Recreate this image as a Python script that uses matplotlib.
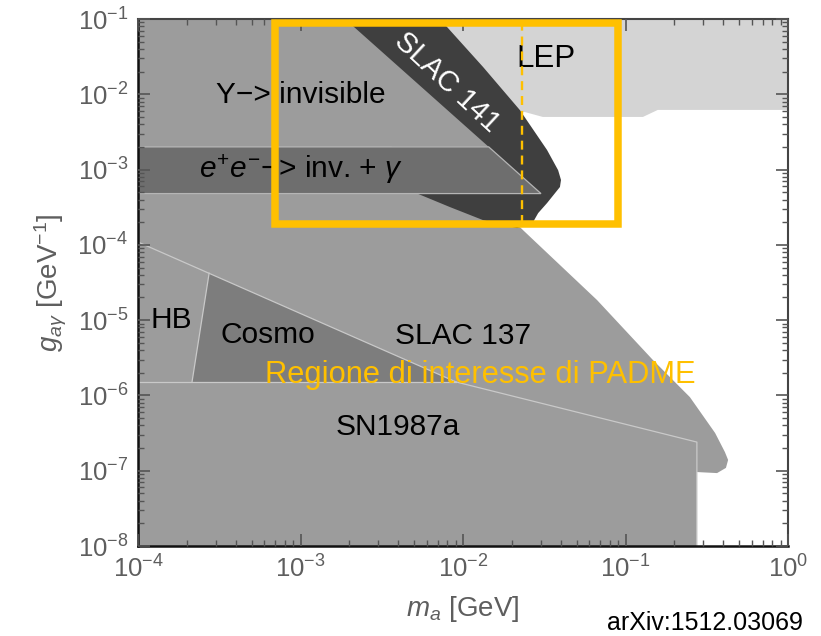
import matplotlib
matplotlib.use("Agg")
import matplotlib.pyplot as plt
from matplotlib.patches import Rectangle
from matplotlib.ticker import LogLocator, NullFormatter

plt.rcParams["font.family"] = ["Liberation Sans", "DejaVu Sans"]
plt.rcParams["mathtext.fontset"] = "custom"
plt.rcParams["mathtext.rm"] = "Liberation Sans"
plt.rcParams["mathtext.it"] = "Liberation Sans:italic"
plt.rcParams["mathtext.bf"] = "Liberation Sans:bold"

# ---- exclusion regions (m_a in GeV, g_agamma in GeV^-1) ----
lep_m = [5.5e-3, 1.0, 1.0, 0.158, 0.128, 0.031, 0.0241, 0.018]
lep_g = [0.1, 0.1, 6.2e-3, 6.2e-3, 5.0e-3, 5.0e-3, 5.8e-3, 5.8e-3]

slac141_m = [1.5e-3, 7.2e-3, 0.0133, 0.0224, 0.0329, 0.0385, 0.0401, 0.0395,
             0.0329, 0.029, 0.027, 0.0215, 0.0133, 8.3e-3, 5.0e-3]
slac141_g = [0.1, 0.1, 0.023, 6.16e-3, 1.82e-3, 9.8e-4, 7.27e-4, 5.87e-4,
             3.59e-4, 2.64e-4, 2.01e-4, 1.67e-4, 2.13e-4, 3.18e-4, 5.0e-4]

slac137_m = [1e-4, 0.275, 0.275, 0.366, 0.415, 0.428, 0.409, 0.356, 0.249,
             0.1476, 0.0668, 0.0234, 0.0209, 0.012, 1e-4]
slac137_g = [1e-8, 1e-8, 9.6e-8, 9.3e-8, 1.09e-7, 1.39e-7, 1.77e-7, 3.17e-7,
             9.5e-7, 2.95e-6, 1.85e-5, 1.57e-4, 2.0e-4, 6.0e-4, 6.0e-4]

upsilon_m = [1e-4, 1.88e-3, 0.0144, 1e-4]
upsilon_g = [0.1, 0.1, 2.0e-3, 2.0e-3]

eeinv_m = [1e-4, 0.0144, 0.0302, 1e-4]
eeinv_g = [2.0e-3, 2.0e-3, 4.8e-4, 4.8e-4]

cosmo_m = [2.74e-4, 9.06e-3, 2.15e-4]
cosmo_g = [4.21e-5, 1.51e-6, 1.51e-6]

hb_top_m = [1e-4, 9.06e-3]
hb_top_g = [1.09e-4, 1.51e-6]
hb_side_m = [2.74e-4, 2.15e-4]
hb_side_g = [4.21e-5, 1.51e-6]
hb_base_m = [1e-4, 9.06e-3]
hb_base_g = [1.51e-6, 1.51e-6]

sn_m = [9.06e-3, 0.275, 0.275]
sn_g = [1.51e-6, 2.4e-7, 1e-8]

# PADME region of interest
padme_m = [7.0e-4, 0.0893]
padme_g = [1.89e-4, 0.0883]
padme_mass_limit = 0.023

MID = "#9c9c9c"
EDGE = "#c9c9c9"
YELLOW = "#FFC000"
TICKC = "#5e5e5e"

fig = plt.figure(figsize=(8.21, 6.36), dpi=100)
ax = fig.add_axes([138 / 821, 1 - 546 / 636, 650 / 821, 527 / 636])
ax.set_xscale("log")
ax.set_yscale("log")
ax.set_xlim(1e-4, 1.0)
ax.set_ylim(1e-8, 1e-1)

ax.fill(lep_m, lep_g, color="#d4d4d4", lw=0, zorder=1.0)
ax.fill(slac137_m, slac137_g, color=MID, lw=0, zorder=1.1)
ax.fill(slac141_m, slac141_g, color="#3f3f3f", lw=0, zorder=1.2)
ax.fill(upsilon_m, upsilon_g, color=MID, lw=0, zorder=1.3)
ax.fill(eeinv_m, eeinv_g, facecolor="#6e6e6e", edgecolor="#b5b5b5", lw=0.9, zorder=1.4)
ax.fill(cosmo_m, cosmo_g, color="#7d7d7d", lw=0, zorder=1.4)

for xs, ys in [(hb_top_m, hb_top_g), (hb_side_m, hb_side_g),
               (hb_base_m, hb_base_g), (sn_m, sn_g)]:
    ax.plot(xs, ys, color=EDGE, lw=0.9, zorder=1.5)

# region labels
lab = dict(fontsize=21.5, color="black", zorder=3)
ax.text(1.0e-3, 7.64e-3, "Y\u2212> invisible", ha="center", va="baseline", **lab)
ax.text(1.0e-3, 7.7e-4, r"$e^{+}e^{-}$" + "\u2212> inv. + " + r"$\gamma$",
        ha="center", va="baseline", **lab)
ax.text(7.98e-3, 0.0145, "SLAC 141", ha="center", va="center", rotation=-43,
        rotation_mode="anchor", fontsize=21, color="white", zorder=3)
ax.text(0.0325, 0.023, "LEP", ha="center", va="baseline", fontsize=22.5, color="black", zorder=3)
ax.text(1.6e-4, 7.85e-6, "HB", ha="center", va="baseline", **lab)
ax.text(6.3e-4, 4.9e-6, "Cosmo", ha="center", va="baseline", **lab)
ax.text(1.0e-2, 4.8e-6, "SLAC 137", ha="center", va="baseline", **lab)
ax.text(3.98e-3, 2.98e-7, "SN1987a", ha="center", va="baseline", **lab)
ax.text(0.0127, 1.46e-6, "Regione di interesse di PADME", ha="center", va="baseline",
        fontsize=22.2, color=YELLOW, zorder=3)

# PADME box and mass reach
ax.add_patch(Rectangle((padme_m[0], padme_g[0]), padme_m[1] - padme_m[0],
                       padme_g[1] - padme_g[0], fill=False, edgecolor=YELLOW,
                       lw=5.4, zorder=4, joinstyle="miter"))
ax.plot([padme_mass_limit, padme_mass_limit], [padme_g[0], padme_g[1]],
        color=YELLOW, lw=1.7, dashes=(3.8, 2.5), zorder=4)

# axes styling
ax.set_axisbelow(False)
for side in ["left", "bottom"]:
    ax.spines[side].set_color("#111111")
    ax.spines[side].set_linewidth(1.8)
for side in ["top", "right"]:
    ax.spines[side].set_color("#444444")
    ax.spines[side].set_linewidth(1.5)

ax.xaxis.set_major_locator(LogLocator(base=10, numticks=10))
ax.yaxis.set_major_locator(LogLocator(base=10, numticks=10))
ax.xaxis.set_minor_locator(LogLocator(base=10, subs=range(2, 10), numticks=20))
ax.yaxis.set_minor_locator(LogLocator(base=10, subs=range(2, 10), numticks=20))
ax.xaxis.set_minor_formatter(NullFormatter())
ax.yaxis.set_minor_formatter(NullFormatter())
ax.tick_params(which="both", direction="in", top=True, right=True, color="#555555")
ax.tick_params(which="major", length=8.5, width=1.2, labelsize=18.5,
               labelcolor=TICKC)
ax.tick_params(which="minor", length=4.3, width=1.0)
ax.tick_params(axis="x", which="major", pad=7)
ax.tick_params(axis="y", which="major", pad=7)

ax.set_xlabel(r"$m_a$ [GeV]", fontsize=20, color=TICKC, labelpad=8)
ax.set_ylabel(r"$g_{a\gamma}$ [GeV$^{-1}$]", fontsize=20, color=TICKC, labelpad=6)

fig.text(705 / 821, 6 / 636, "arXiv:1512.03069", ha="center", va="baseline",
         fontsize=18, color="black")

fig.savefig("out.png", dpi=100)
